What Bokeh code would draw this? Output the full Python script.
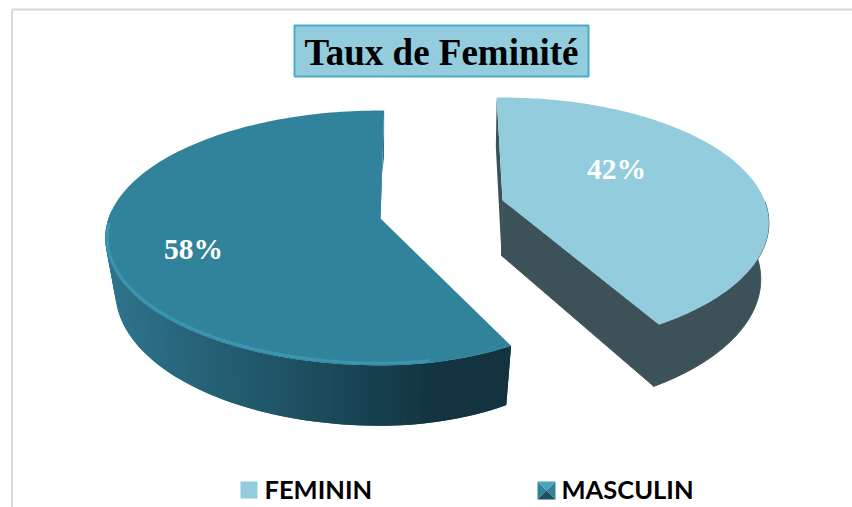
import numpy as np
from bokeh.embed import file_html
from bokeh.models import Range1d
from bokeh.plotting import figure
from bokeh.resources import INLINE
from bokeh.core.properties import value

TITLE = "Taux de Feminité"
categories = ["FEMININ", "MASCULIN"]
shares = [42, 58]
labels = ["42%", "58%"]

W, H = 852, 507
p = figure(width=W, height=H, x_range=Range1d(0, W), y_range=Range1d(H, 0),
           output_backend="svg", toolbar_location=None, min_border=0, outline_line_color=None)
p.axis.visible = False
p.grid.visible = False
p.background_fill_color = "white"
p.border_fill_color = "white"

# page frame
p.line([11.5, 11.5], [507, 9], line_color="#d9d9d9", line_width=2)
p.line([11.5, 852], [9, 9], line_color="#d9d9d9", line_width=2)


def rim(g, t):
    u, v = np.sin(t), np.cos(t)
    sx = np.where(u > 0, g.get("right", 1.0), 1.0)
    return g["cx"] + g["rx"] * sx * u / (1 + g["p"] * v), g["cy"] - g["ry"] * v / (1 + g["p"] * v)


def arc(g, a, b, n=160):
    return rim(g, np.radians(np.linspace(a, b, n)))


sweep_f = shares[0] / sum(shares) * 360
sweep_m = shares[1] / sum(shares) * 360

# ---- FEMININ
ft = dict(cx=502, cy=200, rx=262, ry=121.5, p=.18)
fb = dict(cx=501, cy=255, rx=255, ry=128, p=.18)
a0, a1 = -1.5, -1.5 + sweep_f
fx, fy = arc(ft, a0, a1)
gx, gy = arc(fb, a0, a1)
WALL_F = "#3d5258"
sx0, sy0 = rim(ft, np.radians(a0))
sx1, sy1 = rim(fb, np.radians(a0))
p.patch([sx0, sx1, fb["cx"], ft["cx"]], [sy0, sy1, fb["cy"], ft["cy"]], fill_color=WALL_F, line_color=None)
p.patch([ft["cx"], fx[-1], gx[-1], fb["cx"]], [ft["cy"], fy[-1], gy[-1], fb["cy"]],
        fill_color=WALL_F, line_color=WALL_F, line_width=1)
# outer wall: only its front part, which the top face does not hide
near = np.linspace(a0, a1, 160) > 90
p.patch(np.r_[fx[near], gx[near][::-1]], np.r_[fy[near], gy[near][::-1]],
        fill_color=WALL_F, line_color=WALL_F, line_width=1)
p.patch(np.r_[ft["cx"], fx], np.r_[ft["cy"], fy], fill_color="#93cddd", line_color=None)

# ---- MASCULIN
mt = dict(cx=380, cy=218, rx=272, ry=124.5, p=.153, right=.89)
mb = dict(cx=380, cy=270.6, rx=262, ry=131, p=.153, right=.89)
a0, a1 = 1, 1 - sweep_m
mx, my = arc(mt, a0, a1)
nx, ny = arc(mb, a0, a1)
sx0, sy0 = rim(mt, np.radians(a0))
sx1, sy1 = rim(mb, np.radians(a0))
p.patch([sx0, sx1, mt["cx"] - 4, mt["cx"]], [sy0, sy1, mt["cy"], mt["cy"]], fill_color="#2b6f87", line_color=None)
c0 = np.array([0x2e, 0x74, 0x8c])
c1 = np.array([0x12, 0x33, 0x3f])
ang = np.linspace(a0, a1, 160)
front = np.nonzero(ang < -85)[0]
for i in front[:-1]:
    f = np.clip((mx[i] - 110) / 330, 0, 1)
    c = c0 + (c1 - c0) * f
    col = "#%02x%02x%02x" % tuple(int(v) for v in c)
    j = min(i + 2, front[-1])
    p.patch([mx[i], mx[j], nx[j], nx[i]], [my[i], my[j], ny[j], ny[i]], fill_color=col, line_color=None)
p.patch(np.r_[mt["cx"], mx], np.r_[mt["cy"], my], fill_color="#31839c", line_color=None)
# bevel highlight along the front rim
inner = dict(mt, rx=mt["rx"] - 2, ry=mt["ry"] - 2)
bx, by = arc(inner, -92, -190)
p.line(bx, by, line_color="#3a95b1", line_width=3)

# ---- labels
lab_x = [616, 193]
lab_y = [168, 248]
p.text(lab_x, lab_y, text=labels, text_color="white", text_font=value("Liberation Serif"),
       text_font_style="bold", text_font_size="29.5px", text_align="center", text_baseline="middle")

# ---- title
p.quad(left=[294], right=[588], top=[25], bottom=[76], fill_color="#93cddd", line_color="#4bacc6", line_width=2)
p.text([441], [52], text=[TITLE], text_color="black", text_font=value("Liberation Serif"),
       text_font_style="bold", text_font_size="37px", text_align="center", text_baseline="middle")

# ---- legend
p.quad(left=[240], right=[257], top=[481], bottom=[498], fill_color="#93cddd", line_color=None)
l, r, t, b = 537, 555, 481, 499
cx_, cy_ = (l + r) / 2, (t + b) / 2
p.patch([l, r, cx_], [t, t, cy_], fill_color="#4aa3c0", line_color=None)
p.patch([l, l, cx_], [t, b, cy_], fill_color="#33829b", line_color=None)
p.patch([r, r, cx_], [t, b, cy_], fill_color="#33829b", line_color=None)
p.patch([l, r, cx_], [b, b, cy_], fill_color="#1c4f60", line_color=None)
p.text([264, 561], [488, 488], text=categories, text_color="black", text_font=value("Lato"),
       text_font_style="bold", text_font_size="25.5px", text_align="left", text_baseline="middle")

open("out.html", "w").write(file_html(p, INLINE))
